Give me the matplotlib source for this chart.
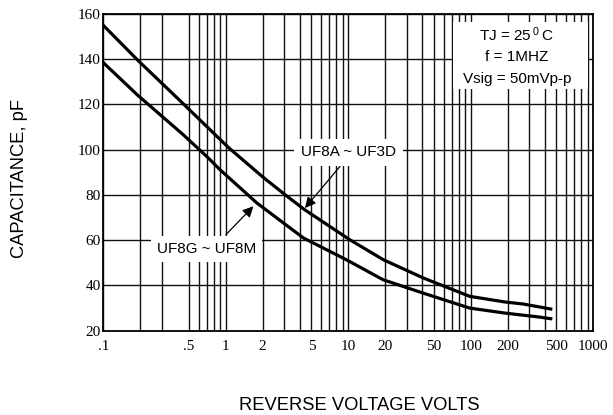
import matplotlib
matplotlib.use("Agg")
import matplotlib.pyplot as plt
from matplotlib.patches import Rectangle
from matplotlib.ticker import NullFormatter

# ---- data ----
volts_a = [0.1, 0.19, 0.45, 1.05, 2.0, 3.0, 4.4, 10.3, 19.3, 41, 98, 190, 268, 450]
cap_a = [155.0, 139.7, 120.3, 101.0, 88.0, 80.4, 73.5, 60.2, 51.4, 43.3, 35.2, 32.7, 31.8, 29.6]

volts_g = [0.1, 0.19, 0.45, 0.70, 0.90, 1.79, 4.3, 9.7, 19.3, 41, 98, 190, 367, 450]
cap_g = [138.5, 124.2, 106.6, 97.0, 91.1, 76.5, 61.0, 51.3, 42.5, 36.6, 30.0, 27.8, 26.0, 25.3]

label_a = "UF8A ~ UF3D"
label_g = "UF8G ~ UF8M"

x_major = [0.1, 0.5, 1, 2, 5, 10, 20, 50, 100, 200, 500, 1000]
x_major_labels = [".1", ".5", "1", "2", "5", "10", "20", "50", "100", "200", "500", "1000"]
x_minor = [0.2, 0.3, 0.6, 0.7, 0.8, 0.9, 3, 4, 6, 7, 8, 9,
           30, 40, 60, 70, 80, 90, 300, 400, 600, 700, 800, 900]
y_ticks = [20, 40, 60, 80, 100, 120, 140, 160]
y_labels = ["20", "40", "60", "80", "100", "120", "140", "160"]

conditions = ["TJ = 25$\\mathregular{\\,^{0}\\,}$C", "f = 1MHZ", "Vsig = 50mVp-p"]
x_title = "REVERSE VOLTAGE VOLTS"
y_title = "CAPACITANCE, pF"

# ---- style ----
plt.rcParams['font.family'] = ['Liberation Sans', 'DejaVu Sans']
plt.rcParams['mathtext.fontset'] = 'custom'
plt.rcParams['mathtext.rm'] = 'Liberation Sans'

fig = plt.figure(figsize=(6.13, 4.15), dpi=100)
ax = fig.add_axes([0.1685, 0.2031, 0.7993, 0.7632])

ax.set_xscale('log')
ax.set_xlim(0.1, 1000)
ax.set_ylim(20, 160)

ax.set_xticks(x_major, x_major_labels)
ax.set_xticks(x_minor, minor=True)
ax.xaxis.set_minor_formatter(NullFormatter())
ax.set_yticks(y_ticks, y_labels)

for lab in ax.get_xticklabels() + ax.get_yticklabels():
    lab.set_family('Liberation Serif')
    lab.set_fontsize(11)

ax.tick_params(which='both', length=0)
ax.tick_params(axis='x', pad=6.5)
ax.tick_params(axis='y', pad=1.7)

ax.set_axisbelow(True)
ax.grid(which='both', axis='both', color='#111111', lw=1.0)
for s in ax.spines.values():
    s.set_linewidth(1.3)
    s.set_color('black')

ax.plot(volts_a, cap_a, color='black', lw=2.3, solid_joinstyle='round', zorder=2)
ax.plot(volts_g, cap_g, color='black', lw=2.3, solid_joinstyle='round', zorder=2)

# curve labels with white boxes
ax.text(10.1, 98.8, label_a, ha='center', va='center', fontsize=11,
        bbox=dict(fc='white', ec='none', boxstyle='square,pad=0.45'), zorder=3)
ax.text(0.698, 56.2, label_g, ha='center', va='center', fontsize=11,
        bbox=dict(fc='white', ec='none', boxstyle='square,pad=0.4'), zorder=3)

arrow = dict(arrowstyle='-|>', color='black', lw=0.9, mutation_scale=16,
             shrinkA=0, shrinkB=0)
ax.annotate('', xy=(4.43, 74.2), xytext=(8.55, 92.6), arrowprops=arrow, zorder=4)
ax.annotate('', xy=(1.68, 75.0), xytext=(1.0, 62.4), arrowprops=arrow, zorder=4)

# conditions box
ax.add_patch(Rectangle((0.7137, 0.7632), 0.2755, 0.2115, transform=ax.transAxes,
                       fc='white', ec='none', zorder=1.5))
for txt, yy in zip(conditions, [0.9337, 0.8627, 0.7948]):
    ax.text(0.8443, yy, txt, transform=ax.transAxes, ha='center', va='center',
            fontsize=11, zorder=3)

fig.text(0.5865, 0.012, x_title, ha='center', va='baseline', fontsize=13.2)
fig.text(0.0326, 0.5711, y_title, ha='center', va='center', rotation=90, fontsize=13.2)

fig.savefig('out.png', dpi=100)
